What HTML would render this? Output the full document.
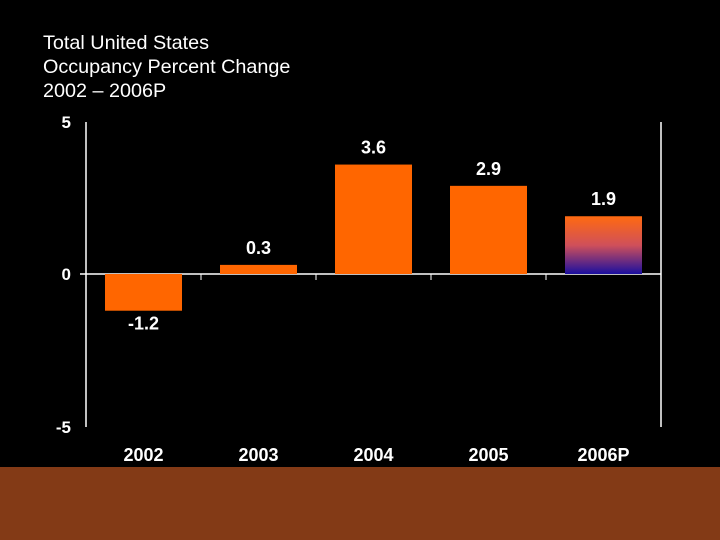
<!DOCTYPE html>
<html><head><meta charset="utf-8">
<style>
html,body{margin:0;padding:0;background:#000;}
body{width:720px;height:540px;overflow:hidden;position:relative;font-family:"Liberation Sans",Arial,sans-serif;}
#title{position:absolute;left:43px;top:31px;color:#fff;font-size:19.8px;line-height:24px;}
#footer{position:absolute;left:0;top:467px;width:720px;height:73px;background:#833A16;}
</style></head><body>
<div id="title">Total United States<br>Occupancy Percent Change<br>2002 – 2006P</div>
<svg id="chart" width="720" height="540" style="position:absolute;left:0;top:0">
<defs><linearGradient id="g" x1="0" y1="0" x2="0" y2="1"><stop offset="0" stop-color="#FF6A10"/><stop offset="0.5" stop-color="#D0505A"/><stop offset="1" stop-color="#1A0FA0"/></linearGradient></defs>
</svg>
<div id="footer"></div>
<script>
const categories=["2002","2003","2004","2005","2006P"];
const values=[-1.2,0.3,3.6,2.9,1.9];
const labels=["-1.2","0.3","3.6","2.9","1.9"];
const yTicks=[5,0,-5];
const svg=document.getElementById('chart');
const NS='http://www.w3.org/2000/svg';
const L=86,R=661,T=122,B=427,zeroY=274;
function y(v){return v>=0?zeroY-(zeroY-T)*v/5:zeroY+(B-zeroY)*(-v)/5;}
const cw=(R-L)/categories.length;
function x(i){return L+cw*i;}
function mk(tag,a,txt){const e=document.createElementNS(NS,tag);for(const k in a)e.setAttribute(k,a[k]);if(txt!==undefined)e.textContent=txt;svg.appendChild(e);return e;}
let e;
e=mk('line',{x1:L,y1:T,x2:L,y2:B,stroke:'#fff','stroke-width':1.5});


e=mk('line',{x1:R,y1:T,x2:R,y2:B,stroke:'#fff','stroke-width':1.5});


e=mk('line',{x1:80,y1:y(0),x2:R,y2:y(0),stroke:'#fff','stroke-width':1.5});


for(let i=1;i<categories.length;i++){
 e=mk('line',{x1:x(i),y1:y(0),x2:x(i),y2:y(0)+6,stroke:'#fff','stroke-width':1});
 
 
}
yTicks.forEach(v=>{
 e=mk('text',{x:71,y:y(v)+6,fill:'#fff','font-size':17,'font-weight':'bold','text-anchor':'end','font-family':'Liberation Sans, sans-serif'},String(v));
 
 
});
const bw=77;
categories.forEach((c,i)=>{
 const v=values[i];const bx=x(i)+(cw-bw)/2;
 const top=Math.min(y(v),y(0)),h=Math.abs(y(v)-y(0));
 e=mk('rect',{x:bx,y:top,width:bw,height:h,fill:i===4?'url(#g)':'#FF6600'});
 
 
 const ly=v>=0?y(v)-11:y(v)+19;
 e=mk('text',{x:bx+bw/2,y:ly,fill:'#fff','font-size':18,'font-weight':'bold','text-anchor':'middle','font-family':'Liberation Sans, sans-serif'},labels[i]);
 
 
 e=mk('text',{x:x(i)+cw/2,y:461,fill:'#fff','font-size':18,'font-weight':'bold','text-anchor':'middle','font-family':'Liberation Sans, sans-serif'},c);
 
 
});
</script>
</body></html>
